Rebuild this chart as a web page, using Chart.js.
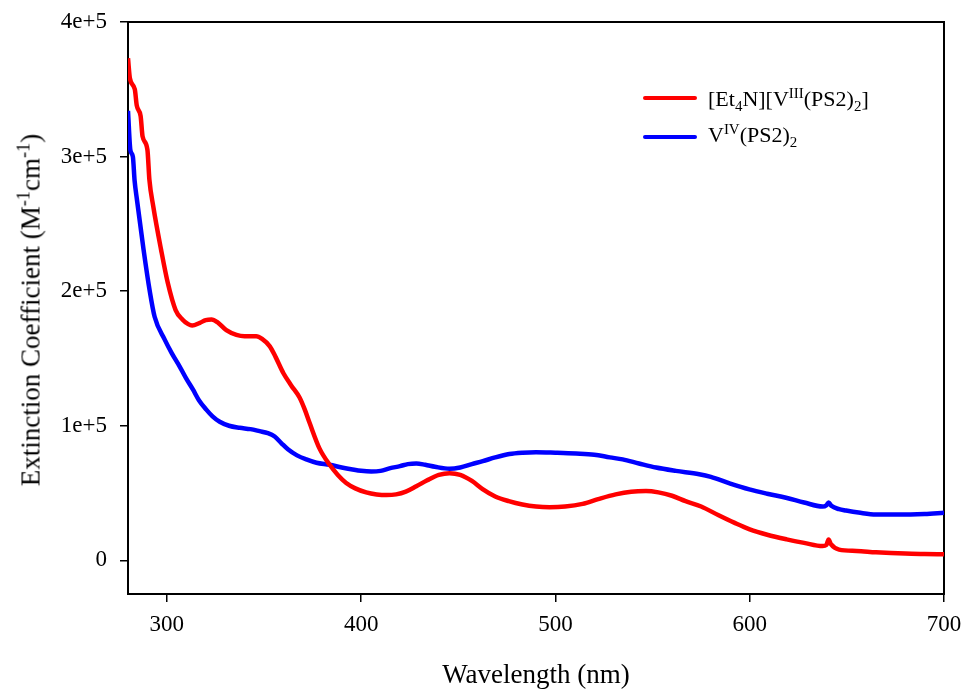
<!DOCTYPE html>
<html>
<head>
<meta charset="utf-8">
<script src="https://cdn.jsdelivr.net/npm/chart.js@4.4.1/dist/chart.umd.min.js"></script>
<style>
  body { margin: 0; background: #fff; }
  #wrap { position: relative; width: 966px; height: 692px; font-family: "Liberation Serif", "Times New Roman", serif; color: #000; }
  canvas { position: absolute; left: 0; top: 0; }
  .lbl { position: absolute; white-space: nowrap; font-size: 22px; line-height: 22px; }
  .lbl sup, .lbl sub, .ytitle sup { font-size: 0.68em; line-height: 0; }
  .swatch { position: absolute; width: 54px; height: 4px; border-radius: 2px; }
  .ytitle { position: absolute; left: 31px; top: 310px; white-space: nowrap; font-size: 27px; line-height: 27px;
            transform: translate(-50%, -50%) rotate(-90deg); }
</style>
</head>
<body>
<div id="wrap">
  <canvas id="spectra" width="966" height="692"></canvas>
  <div class="ytitle">Extinction Coefficient (M<sup>-1</sup>cm<sup>-1</sup>)</div>
  <div class="swatch" style="left:643px; top:96px; background:#ff0000;"></div>
  <div class="lbl" style="left:708px; top:88px;">[Et<sub>4</sub>N][V<sup>III</sup>(PS2)<sub>2</sub>]</div>
  <div class="swatch" style="left:643px; top:135px; background:#0000ff;"></div>
  <div class="lbl" style="left:708px; top:124px;">V<sup>IV</sup>(PS2)<sub>2</sub></div>
</div>
<script>
// [Et4N][V(III)(PS2)2] spectrum
const redNm = [280, 281, 283.5, 284.5, 286.5, 287.5, 290, 291, 293, 297, 300.5, 304.5, 308, 311, 313, 317, 320, 323, 326,
  330.6, 335.8, 340, 346, 349, 353, 356, 360, 364, 368.3, 371, 373.5, 378.6, 383.8, 388, 392.3, 397, 402.6, 408, 413, 418, 423,
  428.4, 434, 440, 445.5, 451, 457, 462.5, 469, 476, 483, 490, 497, 505, 514, 522, 531, 539, 546.6, 553, 560, 567, 575,
  584, 592, 600, 609, 619, 628, 637.5, 639.5, 640.6, 641.8, 646, 655, 665, 680, 690, 700];
const redEps = [3.73e5, 3.58e5, 3.50e5, 3.38e5, 3.30e5, 3.15e5, 3.05e5, 2.83e5, 2.63e5, 2.31e5, 2.06e5, 1.86e5, 1.79e5,
  1.755e5, 1.745e5, 1.765e5, 1.785e5, 1.79e5, 1.77e5, 1.71e5, 1.675e5, 1.665e5, 1.665e5, 1.645e5, 1.59e5, 1.51e5, 1.39e5,
  1.30e5, 1.21e5, 1.12e5, 1.02e5, 0.83e5, 0.71e5, 0.635e5, 0.575e5, 0.535e5, 0.505e5, 0.49e5, 0.485e5, 0.49e5, 0.51e5, 0.55e5,
  0.595e5, 0.635e5, 0.648e5, 0.635e5, 0.59e5, 0.53e5, 0.475e5, 0.44e5, 0.415e5, 0.40e5, 0.395e5, 0.40e5, 0.42e5, 0.455e5,
  0.49e5, 0.51e5, 0.515e5, 0.505e5, 0.48e5, 0.44e5, 0.40e5, 0.335e5, 0.28e5, 0.23e5, 0.19e5, 0.156e5, 0.13e5, 0.106e5,
  0.115e5, 0.155e5, 0.12e5, 0.08e5, 0.07e5, 0.06e5, 0.05e5, 0.047e5, 0.045e5];

// V(IV)(PS2)2 spectrum
const blueNm = [280, 281.2, 282.5, 283.4, 284.6, 288, 291.2, 293.7, 298.9, 302.5, 306.6, 310, 313.4, 316.5, 320.3, 323.5,
  327.2, 332, 337.5, 343, 347.7, 352, 355.5, 359, 362.3, 367, 371.8, 377, 383.8, 390, 395.6, 400, 405.2, 410, 415, 420,
  424, 428.4, 433, 438, 445.5, 451, 457, 462.6, 469, 476.3, 483, 490, 500, 510.6, 520, 528, 534.6, 543, 551.8, 562, 574,
  580, 590, 599.8, 609, 618.7, 628, 637.5, 639.5, 640.6, 642, 646, 649.6, 656, 665, 677, 690, 700];
const blueEps = [3.34e5, 3.05e5, 3.00e5, 2.82e5, 2.68e5, 2.31e5, 2.00e5, 1.81e5, 1.64e5, 1.54e5, 1.44e5, 1.35e5, 1.27e5,
  1.19e5, 1.12e5, 1.07e5, 1.03e5, 1.00e5, 0.985e5, 0.975e5, 0.96e5, 0.945e5, 0.92e5, 0.87e5, 0.825e5, 0.78e5, 0.75e5,
  0.725e5, 0.71e5, 0.69e5, 0.675e5, 0.665e5, 0.66e5, 0.665e5, 0.685e5, 0.70e5, 0.715e5, 0.72e5, 0.71e5, 0.695e5, 0.68e5,
  0.69e5, 0.715e5, 0.737e5, 0.765e5, 0.79e5, 0.80e5, 0.804e5, 0.80e5, 0.794e5, 0.785e5, 0.765e5, 0.75e5, 0.72e5, 0.69e5,
  0.665e5, 0.64e5, 0.62e5, 0.57e5, 0.527e5, 0.495e5, 0.465e5, 0.43e5, 0.40e5, 0.41e5, 0.43e5, 0.405e5, 0.38e5, 0.37e5,
  0.355e5, 0.34e5, 0.34e5, 0.345e5, 0.354e5];

const xTicks = [300, 400, 500, 600, 700];
const yTicks = [0, 1e5, 2e5, 3e5, 4e5];

const pairs = (xs, ys) => xs.map((x, i) => ({ x: x, y: ys[i] }));

// box round the plot area
const frame = {
  id: 'frame',
  beforeDatasetsDraw(chart) {
    const a = chart.chartArea, c = chart.ctx;
    c.save();
    c.strokeStyle = '#000';
    c.lineWidth = 2;
    c.strokeRect(a.left, a.top, a.right - a.left, a.bottom - a.top);
    c.restore();
  }
};

const tickFont = { family: 'Liberation Serif', size: 23 };

new Chart(document.getElementById('spectra'), {
  type: 'line',
  data: {
    datasets: [{
      label: '[Et4N][V(III)(PS2)2]',
      data: pairs(redNm, redEps),
      borderColor: '#ff0000',
      borderWidth: 4.5,
      pointRadius: 0,
      cubicInterpolationMode: 'monotone'
    }, {
      label: 'V(IV)(PS2)2',
      data: pairs(blueNm, blueEps),
      borderColor: '#0000ff',
      borderWidth: 4.5,
      pointRadius: 0,
      cubicInterpolationMode: 'monotone'
    }]
  },
  options: {
    responsive: false,
    animation: false,
    layout: { padding: { top: 22, right: 22, left: 0, bottom: 0 } },
    plugins: { legend: { display: false }, tooltip: { enabled: false } },
    scales: {
      x: {
        type: 'linear',
        min: 280,
        max: 700,
        afterBuildTicks: s => { s.ticks = xTicks.map(v => ({ value: v })); },
        afterFit: s => { s.height = 98; s.paddingLeft = 0; s.paddingRight = 0; },
        border: { color: '#000', width: 2 },
        grid: { drawOnChartArea: false, tickLength: 8, color: '#000', lineWidth: 1.5 },
        ticks: { color: '#000', font: tickFont, padding: 9, maxRotation: 0 },
        title: { display: true, text: 'Wavelength (nm)', color: '#000',
                 font: { family: 'Liberation Serif', size: 27 }, padding: { top: 0, bottom: 0 } }
      },
      y: {
        min: -25000,
        max: 400000,
        afterBuildTicks: s => { s.ticks = yTicks.map(v => ({ value: v })); },
        afterFit: s => { s.width = 128; s.paddingTop = 0; s.paddingBottom = 0; },
        border: { color: '#000', width: 2 },
        grid: { drawOnChartArea: false, tickLength: 8, color: '#000', lineWidth: 1.5 },
        ticks: { color: '#000', font: tickFont, padding: 13,
                 callback: v => v === 0 ? '0' : (v / 1e5) + 'e+5' }
      }
    }
  },
  plugins: [frame]
});
</script>
</body>
</html>
